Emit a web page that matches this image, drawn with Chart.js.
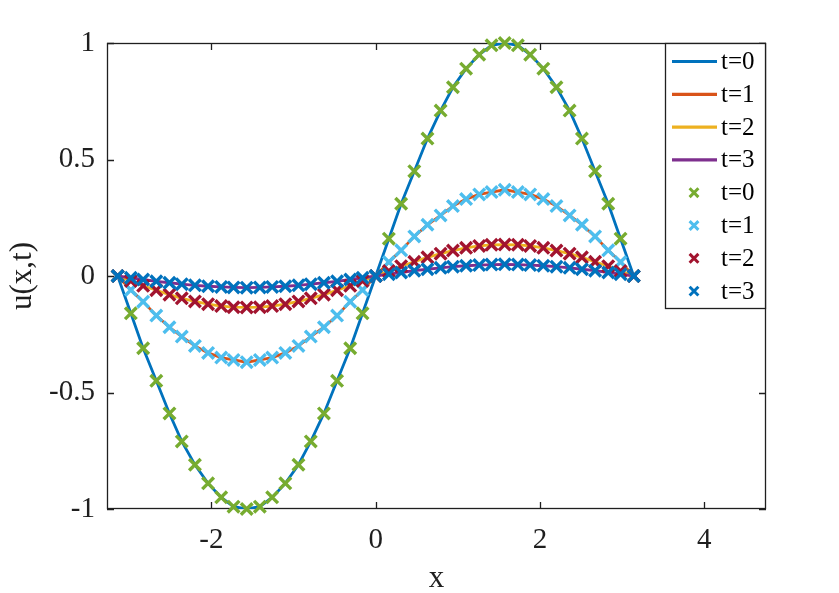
<!DOCTYPE html>
<html><head><meta charset="utf-8">
<script src="https://cdn.jsdelivr.net/npm/chart.js@4.4.0/dist/chart.umd.min.js"></script>
<style>html,body{margin:0;padding:0;background:#fff;}canvas{display:block;}</style>
</head><body>
<canvas id="c" width="839" height="593"></canvas>
<script>
// ---- data ----
const xValues = [-3.14,-2.98,-2.83,-2.67,-2.51,-2.36,-2.20,-2.04,-1.88,-1.73,-1.57,-1.41,-1.26,-1.10,-0.94,-0.79,-0.63,-0.47,-0.31,-0.16,0,
                 0.16,0.31,0.47,0.63,0.79,0.94,1.10,1.26,1.41,1.57,1.73,1.88,2.04,2.20,2.36,2.51,2.67,2.83,2.98,3.14];
const u_t0 = [0,-0.16,-0.31,-0.45,-0.59,-0.71,-0.81,-0.89,-0.95,-0.99,-1.00,-0.99,-0.95,-0.89,-0.81,-0.71,-0.59,-0.45,-0.31,-0.16,0,
              0.16,0.31,0.45,0.59,0.71,0.81,0.89,0.95,0.99,1.00,0.99,0.95,0.89,0.81,0.71,0.59,0.45,0.31,0.16,0];
const u_t1 = [0,-0.06,-0.11,-0.17,-0.22,-0.26,-0.30,-0.33,-0.35,-0.36,-0.37,-0.36,-0.35,-0.33,-0.30,-0.26,-0.22,-0.17,-0.11,-0.06,0,
              0.06,0.11,0.17,0.22,0.26,0.30,0.33,0.35,0.36,0.37,0.36,0.35,0.33,0.30,0.26,0.22,0.17,0.11,0.06,0];
const u_t2 = [0,-0.021,-0.042,-0.061,-0.080,-0.096,-0.109,-0.121,-0.129,-0.134,-0.135,-0.134,-0.129,-0.121,-0.109,-0.096,-0.080,-0.061,-0.042,-0.021,0,
              0.021,0.042,0.061,0.080,0.096,0.109,0.121,0.129,0.134,0.135,0.134,0.129,0.121,0.109,0.096,0.080,0.061,0.042,0.021,0];
const u_t3 = [0,-0.008,-0.015,-0.023,-0.029,-0.035,-0.040,-0.044,-0.047,-0.049,-0.050,-0.049,-0.047,-0.044,-0.040,-0.035,-0.029,-0.023,-0.015,-0.008,0,
              0.008,0.015,0.023,0.029,0.035,0.040,0.044,0.047,0.049,0.050,0.049,0.047,0.044,0.040,0.035,0.029,0.023,0.015,0.008,0];
const seriesLabels = ['t=0','t=1','t=2','t=3'];
const xTicks = [-2, 0, 2, 4];
const yTicks = [-1, -0.5, 0, 0.5, 1];
const xLimits = [-3.27, 4.75];
const yLimits = [-1, 1];
const xTitle = 'x';
const yTitle = 'u(x,t)';

// ---- styling ----
const seriesValues = [u_t0, u_t1, u_t2, u_t3];
const lineColors = ['#0072BD', '#D95319', '#EDB120', '#7E2F8E'];
const markerColors = ['#77AC30', '#4DBEEE', '#A2142F', '#0072BD'];
const FONT = 'Liberation Serif';
const AX = '#1f1f1f';

const datasets = [];
seriesValues.forEach((vals, s) => {
  datasets.push({
    label: seriesLabels[s], kind: 'line',
    data: xValues.map((x, i) => ({x, y: vals[i]})),
    borderColor: lineColors[s], backgroundColor: lineColors[s],
    borderWidth: 2.8, pointRadius: 0, showLine: true, fill: false, tension: 0,
    order: 10 - s
  });
});
seriesValues.forEach((vals, s) => {
  datasets.push({
    label: seriesLabels[s], kind: 'marker',
    data: xValues.map((x, i) => ({x, y: vals[i]})),
    borderColor: markerColors[s], backgroundColor: markerColors[s],
    showLine: false, pointStyle: 'crossRot', pointRadius: 8.2, pointBorderWidth: 3.4,
    pointHoverRadius: 8.2, clip: false,
    order: 4 - s
  });
});

const TICK_LEN = 7;
const axesBox = {
  id: 'axesBox',
  beforeDatasetsDraw(chart) {
    const {ctx, chartArea: a, scales: {x, y}} = chart;
    ctx.save();
    ctx.strokeStyle = AX; ctx.lineWidth = 1.3;
    ctx.strokeRect(a.left + 0.5, a.top + 0.5, a.right - a.left - 1, a.bottom - a.top - 1);
    ctx.beginPath();
    xTicks.forEach(v => {
      const p = Math.round(x.getPixelForValue(v)) + 0.5;
      ctx.moveTo(p, a.bottom); ctx.lineTo(p, a.bottom - TICK_LEN);
      ctx.moveTo(p, a.top); ctx.lineTo(p, a.top + TICK_LEN);
    });
    yTicks.forEach(v => {
      const p = Math.round(y.getPixelForValue(v)) + 0.5;
      ctx.moveTo(a.left, p); ctx.lineTo(a.left + TICK_LEN, p);
      ctx.moveTo(a.right, p); ctx.lineTo(a.right - TICK_LEN, p);
    });
    ctx.stroke();
    ctx.restore();
  }
};

const legendBox = {
  id: 'legendBox',
  afterDraw(chart) {
    const {ctx, chartArea: a} = chart;
    const R = a.right, T = a.top, W = 101, H = 266, L = R - W;
    const rowH = 32.8, firstRow = T + 18.5;
    ctx.save();
    ctx.fillStyle = '#fff';
    ctx.fillRect(L, T, W, H);
    ctx.strokeStyle = AX; ctx.lineWidth = 1.3;
    ctx.strokeRect(L + 0.5, T + 0.5, W - 1, H - 1);
    ctx.font = '25px "' + FONT + '"';
    ctx.textBaseline = 'middle'; ctx.textAlign = 'left';
    chart.data.datasets.forEach((ds, i) => {
      const cy = firstRow + i * rowH;
      if (ds.kind === 'line') {
        ctx.strokeStyle = ds.borderColor; ctx.lineWidth = 3.2;
        ctx.beginPath(); ctx.moveTo(L + 7, cy); ctx.lineTo(L + 52, cy); ctx.stroke();
      } else {
        const cx = L + 29, r = 4.4;
        ctx.strokeStyle = ds.borderColor; ctx.lineWidth = 3;
        ctx.beginPath();
        ctx.moveTo(cx - r, cy - r); ctx.lineTo(cx + r, cy + r);
        ctx.moveTo(cx - r, cy + r); ctx.lineTo(cx + r, cy - r);
        ctx.stroke();
      }
      ctx.fillStyle = '#000';
      ctx.fillText(ds.label, L + 56, cy + 1);
    });
    ctx.restore();
  }
};

new Chart(document.getElementById('c'), {
  type: 'line',
  data: {datasets},
  options: {
    responsive: false, devicePixelRatio: 1, animation: false, events: [],
    layout: {padding: {left: 0, right: 73, top: 43, bottom: 0}},
    plugins: {legend: {display: false}, tooltip: {enabled: false}, title: {display: false}},
    scales: {
      x: {
        type: 'linear', min: xLimits[0], max: xLimits[1],
        afterBuildTicks: s => { s.ticks = xTicks.map(v => ({value: v})); },
        afterFit: s => { s.height = 84; },
        grid: {display: false, drawTicks: false}, border: {display: false},
        ticks: {padding: 14, autoSkip: false, maxRotation: 0, color: AX,
                font: {family: FONT, size: 29}, callback: v => String(v)},
        title: {display: true, text: xTitle, color: AX,
                font: {family: FONT, size: 31, lineHeight: 0.9}, padding: {top: 0, bottom: 0}}
      },
      y: {
        type: 'linear', min: yLimits[0], max: yLimits[1],
        afterBuildTicks: s => { s.ticks = yTicks.map(v => ({value: v})); },
        afterFit: s => { s.width = 107; },
        grid: {display: false, drawTicks: false}, border: {display: false},
        ticks: {padding: 12, autoSkip: false, color: AX,
                font: {family: FONT, size: 29}, callback: v => String(v)},
        title: {display: true, text: yTitle, color: AX,
                font: {family: FONT, size: 31, lineHeight: 0.9}, padding: {top: 9, bottom: 0}}
      }
    }
  },
  plugins: [axesBox, legendBox]
});
</script>
</body></html>
